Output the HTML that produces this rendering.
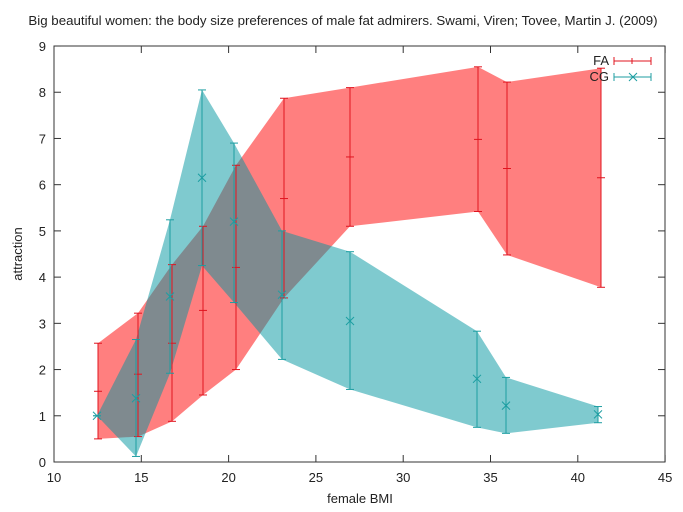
<!DOCTYPE html>
<html><head><meta charset="utf-8"><style>
body{margin:0;background:#fff;}
svg{display:block;font-family:"Liberation Sans",sans-serif;}
</style></head><body>
<svg id="s" width="683" height="512" xmlns="http://www.w3.org/2000/svg">
<text x="343" y="25" font-size="13.3" text-anchor="middle" fill="#222">Big beautiful women: the body size preferences of male fat admirers. Swami, Viren; Tovee, Martin J. (2009)</text>
<text x="360" y="503" font-size="13" text-anchor="middle" fill="#222">female BMI</text>
<text transform="translate(22,254) rotate(-90)" font-size="13" text-anchor="middle" fill="#222">attraction</text>
<g id="g"></g>
<rect x="54" y="46" width="611" height="416" fill="none" stroke="#333" stroke-width="1"/>
<text x="609" y="65" font-size="13" text-anchor="end" fill="#222">FA</text>
<text x="609" y="81" font-size="13" text-anchor="end" fill="#222">CG</text>
<g stroke="#e0141f" stroke-width="1"><line x1="614" y1="61" x2="651" y2="61"/><line x1="614" y1="57" x2="614" y2="65"/><line x1="651" y1="57" x2="651" y2="65"/><line x1="632" y1="58" x2="632" y2="64"/></g>
<g stroke="#1d9ea2" stroke-width="1"><line x1="614" y1="77" x2="651" y2="77"/><line x1="614" y1="73" x2="614" y2="81"/><line x1="651" y1="73" x2="651" y2="81"/><line x1="629" y1="73" x2="637" y2="81"/><line x1="637" y1="73" x2="629" y2="81"/></g>
</svg>
<script>
var NS="http://www.w3.org/2000/svg",g=document.getElementById("g");
function Y(v){return 462-v*46.22;}
function X(v){return 54+(v-10)*17.46;}
function el(t,a){var e=document.createElementNS(NS,t);for(var k in a)e.setAttribute(k,a[k]);g.appendChild(e);return e;}
for(var i=0;i<=9;i++){var y=Y(i);el("line",{x1:54,y1:y,x2:61,y2:y,stroke:"#333"});el("line",{x1:665,y1:y,x2:658,y2:y,stroke:"#333"});
 var t=el("text",{x:46,y:y+5,"font-size":13,"text-anchor":"end",fill:"#222"});t.textContent=i;}
for(var v=10;v<=45;v+=5){var x=X(v);el("line",{x1:x,y1:462,x2:x,y2:455,stroke:"#333"});el("line",{x1:x,y1:46,x2:x,y2:53,stroke:"#333"});
 var t=el("text",{x:x,y:482,"font-size":13,"text-anchor":"middle",fill:"#222"});t.textContent=v;}
var FA={x:[98,138,172,203,236,284,350,478,507,601],c:[1.53,1.9,2.57,3.28,4.21,5.7,6.6,6.98,6.35,6.15],
 l:[0.5,0.55,0.88,1.45,2.0,3.55,5.1,5.42,4.48,3.78],h:[2.57,3.22,4.27,5.1,6.42,7.87,8.1,8.55,8.22,8.52]};
var CG={x:[97,136,170,202,234,282,350,477,506,598],c:[1.0,1.38,3.58,6.15,5.2,3.62,3.05,1.8,1.22,1.03],
 l:[1.0,0.12,1.92,4.25,3.45,2.22,1.57,0.75,0.62,0.85],h:[1.0,2.65,5.24,8.05,6.9,5.0,4.55,2.83,1.83,1.2]};
function poly(d,col){var p=[];for(var i=0;i<d.x.length;i++)p.push(d.x[i]+","+Y(d.h[i]));for(var i=d.x.length-1;i>=0;i--)p.push(d.x[i]+","+Y(d.l[i]));
 el("polygon",{points:p.join(" "),fill:col,"fill-opacity":0.5});}
poly(FA,"#ff0000");poly(CG,"#00959f");
function bars(d,col,cross){for(var i=0;i<d.x.length;i++){var x=d.x[i];
 el("line",{x1:x,y1:Y(d.l[i]),x2:x,y2:Y(d.h[i]),stroke:col});
 el("line",{x1:x-4,y1:Y(d.l[i]),x2:x+4,y2:Y(d.l[i]),stroke:col});
 el("line",{x1:x-4,y1:Y(d.h[i]),x2:x+4,y2:Y(d.h[i]),stroke:col});
 var y=Y(d.c[i]);
 if(cross){el("line",{x1:x-4,y1:y-4,x2:x+4,y2:y+4,stroke:col});el("line",{x1:x-4,y1:y+4,x2:x+4,y2:y-4,stroke:col});}
 else{el("line",{x1:x-4,y1:y,x2:x+4,y2:y,stroke:col});}}}
bars(FA,"#e0141f",false);bars(CG,"#1d9ea2",true);
</script>
</body></html>
